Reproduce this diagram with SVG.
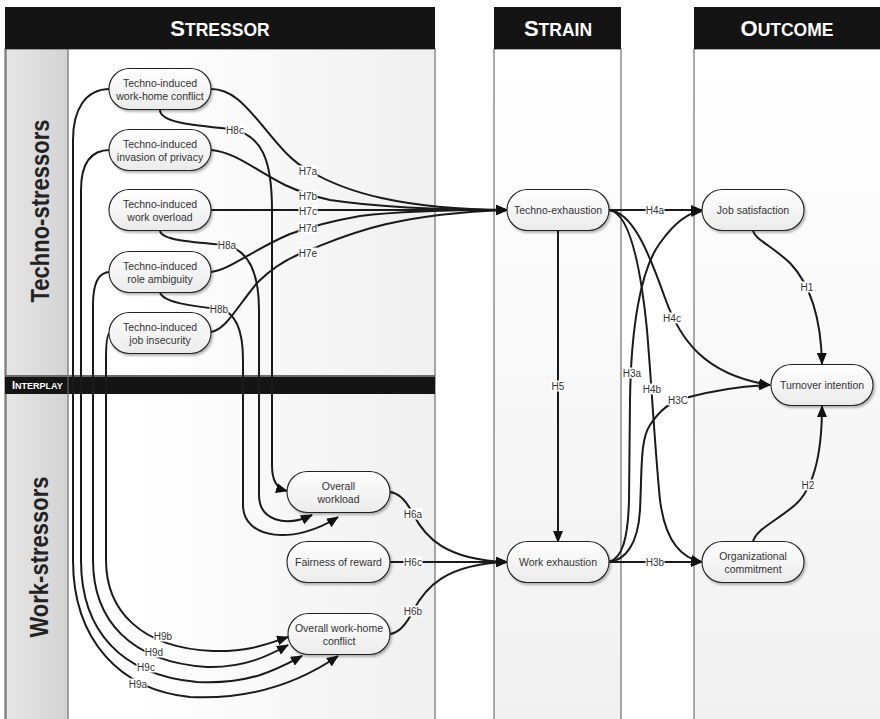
<svg xmlns="http://www.w3.org/2000/svg" width="880" height="719" viewBox="0 0 880 719">
<defs>
<linearGradient id="gStress" x1="0" y1="0" x2="1" y2="0"><stop offset="0" stop-color="#ffffff"/><stop offset="0.3" stop-color="#ffffff"/><stop offset="1" stop-color="#f0f0f0"/></linearGradient>
<linearGradient id="gLane" x1="0" y1="0" x2="0" y2="1"><stop offset="0" stop-color="#ffffff"/><stop offset="1" stop-color="#f1f1f1"/></linearGradient>
<linearGradient id="gCol" x1="0" y1="0" x2="1" y2="0"><stop offset="0" stop-color="#e6e6e6"/><stop offset="1" stop-color="#d3d3d3"/></linearGradient>
<linearGradient id="gNode" x1="0" y1="0" x2="0" y2="1"><stop offset="0" stop-color="#ffffff"/><stop offset="1" stop-color="#ebebeb"/></linearGradient>
<filter id="sh" x="-10%" y="-10%" width="130%" height="150%"><feDropShadow dx="1.5" dy="2" stdDeviation="1" flood-color="#000" flood-opacity="0.28"/></filter>
<marker id="ar" viewBox="0 0 12 10" refX="11" refY="5" markerWidth="12" markerHeight="10" markerUnits="userSpaceOnUse" orient="auto"><path d="M0,0 L12,5 L0,10 z" fill="#111"/></marker>
<style>
.lane{stroke:#555;stroke-width:1}
.hd{font-family:"Liberation Sans",Arial,sans-serif;font-weight:bold;fill:#fff;text-anchor:middle}
.side{font-family:"Liberation Sans",Arial,sans-serif;font-weight:bold;fill:#222;text-anchor:middle}
.n rect{fill:url(#gNode);stroke:#222;stroke-width:1.1;filter:url(#sh)}
.n text{font-family:"Liberation Sans",Arial,sans-serif;font-size:10.5px;fill:#333;text-anchor:middle}
#connectors path{fill:none;stroke:#1a1a1a;stroke-width:2;marker-end:url(#ar)}
.lb rect{fill:#fff}
.lb text{font-family:"Liberation Sans",Arial,sans-serif;font-size:10px;fill:#333;text-anchor:middle}
</style>
</defs>

<g id="lanes">
<rect class="lane" x="5" y="49" width="430" height="680" fill="url(#gStress)"/>
<rect class="lane" x="6" y="49" width="62" height="680" fill="url(#gCol)"/>
<rect class="lane" x="494" y="49" width="127" height="680" fill="url(#gLane)"/>
<rect class="lane" x="694" y="49" width="190" height="680" fill="url(#gLane)"/>
<rect x="5" y="7" width="430" height="42" fill="#141414"/>
<rect x="494" y="7" width="127" height="42" fill="#141414"/>
<rect x="694" y="7" width="186" height="42" fill="#141414"/>
<text class="hd" x="220" y="36"><tspan font-size="22">S</tspan><tspan font-size="17.5">TRESSOR</tspan></text>
<text class="hd" x="558" y="36"><tspan font-size="22">S</tspan><tspan font-size="17.5">TRAIN</tspan></text>
<text class="hd" x="787" y="36"><tspan font-size="22">O</tspan><tspan font-size="17.5">UTCOME</tspan></text>
<text class="side" transform="translate(49,211) rotate(-90)" font-size="25" textLength="183" lengthAdjust="spacingAndGlyphs">Techno-stressors</text>
<text class="side" transform="translate(48,557) rotate(-90)" font-size="25" textLength="161" lengthAdjust="spacingAndGlyphs">Work-stressors</text>
<rect x="5" y="375" width="430" height="19" fill="#141414"/>
<line x1="5" y1="376" x2="435" y2="376" stroke="#888" stroke-width="1.5"/>
<line x1="68" y1="376" x2="68" y2="394" stroke="#777" stroke-width="1"/>
<text x="12" y="389" font-family="Liberation Sans, Arial, sans-serif" font-weight="bold" fill="#fff"><tspan font-size="11">I</tspan><tspan font-size="9">NTERPLAY</tspan></text>
</g>

<g id="connectors">
<path d="M211,89 C232,89 245,105 262,125 C280,147 292,162 310,171 C345,192 400,209 507,210"/>
<path d="M211,150 C235,152 255,170 285,185 C300,192 312,196 330,200 C370,206 420,210 507,210"/>
<path d="M211,210 L507,210"/>
<path d="M211,272 C230,270 252,250 290,234 C312,226 332,221 360,216 C400,211 450,210 507,210"/>
<path d="M211,332 C226,330 238,305 258,282 C275,265 292,256 312,249 C345,236 390,214 507,210"/>
<path d="M160,110 C160,122 190,125 230,129 C262,134 272,160 272,210 L272,465 C272,480 276,488 287,491"/>
<path d="M160,231 C162,240 190,242 225,245 C250,250 259,275 259,310 L259,495 C259,520 285,528 312,515"/>
<path d="M160,292 C162,302 190,306 219,309 C236,312 243,330 243,360 L243,505 C243,540 295,545 338,517"/>
<path d="M110,89 C85,89 73,110 73,140 L73,560 C73,640 120,690 190,697 C250,700 300,682 338,656"/>
<path d="M110,150 C90,150 81,165 81,190 L81,560 C81,630 120,675 197,682 C250,685 280,668 302,656"/>
<path d="M110,272 C98,272 93,285 93,305 L93,560 C93,620 130,662 207,667 C245,668 270,655 288,645"/>
<path d="M110,333 C107,333 106,345 106,360 L106,560 C106,610 140,648 213,651 C250,652 270,643 288,637"/>
<path d="M390,492 C400,493 407,502 413,514 C425,537 445,560 507,562"/>
<path d="M390,562 L507,562"/>
<path d="M390,634 C400,633 407,623 413,611 C425,588 445,564 507,562"/>
<path d="M558,231 L558,542"/>
<path d="M609,210 L702,210"/>
<path d="M609,210 C632,212 648,250 665,298 C680,340 705,375 770,385"/>
<path d="M609,210 C628,212 640,260 647,330 C652,390 655,450 660,500 C665,540 680,558 702,562"/>
<path d="M609,562 C622,558 628,540 629,500 L630,400 C631,330 640,270 660,243 C675,222 690,212 702,211"/>
<path d="M609,562 C625,560 638,545 640,510 C642,470 640,440 650,425 C660,410 670,402 685,398 C715,390 740,386 770,385"/>
<path d="M609,562 L702,562"/>
<path d="M753,231 C756,240 772,246 790,263 C808,282 821,315 822,364"/>
<path d="M753,542 C755,530 775,522 795,505 C812,490 822,460 822,406"/>
<g class="lb">
<rect x="225.5" y="124.5" width="19" height="11"/><text x="235" y="133.5">H8c</text>
<rect x="298.5" y="165.5" width="19" height="11"/><text x="308" y="174.5">H7a</text>
<rect x="298.5" y="190.5" width="19" height="11"/><text x="308" y="199.5">H7b</text>
<rect x="298.5" y="205.5" width="19" height="11"/><text x="308" y="214.5">H7c</text>
<rect x="298.5" y="222.5" width="19" height="11"/><text x="308" y="231.5">H7d</text>
<rect x="298.5" y="247.5" width="19" height="11"/><text x="308" y="256.5">H7e</text>
<rect x="217.5" y="239.5" width="19" height="11"/><text x="227" y="248.5">H8a</text>
<rect x="209.5" y="303.5" width="19" height="11"/><text x="219" y="312.5">H8b</text>
<rect x="550.5" y="380.5" width="15" height="11"/><text x="558" y="389.5">H5</text>
<rect x="645.5" y="204.5" width="19" height="11"/><text x="655" y="213.5">H4a</text>
<rect x="662.5" y="312.5" width="19" height="11"/><text x="672" y="321.5">H4c</text>
<rect x="622.5" y="367.5" width="19" height="11"/><text x="632" y="376.5">H3a</text>
<rect x="642.5" y="383.5" width="19" height="11"/><text x="652" y="392.5">H4b</text>
<rect x="668" y="394.5" width="20" height="11"/><text x="678" y="403.5">H3C</text>
<rect x="799.5" y="281.5" width="15" height="11"/><text x="807" y="290.5">H1</text>
<rect x="800.5" y="479.5" width="15" height="11"/><text x="808" y="488.5">H2</text>
<rect x="403.5" y="508.5" width="19" height="11"/><text x="413" y="517.5">H6a</text>
<rect x="403.5" y="556.5" width="19" height="11"/><text x="413" y="565.5">H6c</text>
<rect x="403.5" y="605.5" width="19" height="11"/><text x="413" y="614.5">H6b</text>
<rect x="645.5" y="556.5" width="19" height="11"/><text x="655" y="565.5">H3b</text>
<rect x="153.5" y="630.5" width="19" height="11"/><text x="163" y="639.5">H9b</text>
<rect x="144.5" y="646.5" width="19" height="11"/><text x="154" y="655.5">H9d</text>
<rect x="136.5" y="661.5" width="19" height="11"/><text x="146" y="670.5">H9c</text>
<rect x="128.5" y="678.5" width="19" height="11"/><text x="138" y="687.5">H9a</text>
</g>
</g>

<g id="n1" class="n"><rect x="109" y="68.5" width="102" height="41" rx="20.5"/><text x="160" y="86.5">Techno-induced</text><text x="160" y="100">work-home conflict</text></g>
<g id="n2" class="n"><rect x="109" y="129.5" width="102" height="41" rx="20.5"/><text x="160" y="147.5">Techno-induced</text><text x="160" y="161">invasion of privacy</text></g>
<g id="n3" class="n"><rect x="109" y="189.5" width="102" height="41" rx="20.5"/><text x="160" y="207.5">Techno-induced</text><text x="160" y="221">work overload</text></g>
<g id="n4" class="n"><rect x="109" y="251.5" width="102" height="41" rx="20.5"/><text x="160" y="269.5">Techno-induced</text><text x="160" y="283">role ambiguity</text></g>
<g id="n5" class="n"><rect x="109" y="312.5" width="102" height="41" rx="20.5"/><text x="160" y="330.5">Techno-induced</text><text x="160" y="344">job insecurity</text></g>
<g id="n6" class="n"><rect x="287" y="471.5" width="103" height="41" rx="20.5"/><text x="338.5" y="489.5">Overall</text><text x="338.5" y="503">workload</text></g>
<g id="n7" class="n"><rect x="287" y="541.5" width="103" height="41" rx="20.5"/><text x="338.5" y="565.8">Fairness of reward</text></g>
<g id="n8" class="n"><rect x="288" y="613.5" width="102" height="41" rx="20.5"/><text x="339" y="631.5">Overall work-home</text><text x="339" y="645">conflict</text></g>
<g id="n9" class="n"><rect x="507" y="189.5" width="102" height="41" rx="20.5"/><text x="558" y="213.8">Techno-exhaustion</text></g>
<g id="n10" class="n"><rect x="507" y="541.5" width="102" height="41" rx="20.5"/><text x="558" y="565.8">Work exhaustion</text></g>
<g id="n11" class="n"><rect x="702" y="189.5" width="102" height="41" rx="20.5"/><text x="753" y="213.8">Job satisfaction</text></g>
<g id="n12" class="n"><rect x="771" y="364.5" width="102" height="41" rx="20.5"/><text x="822" y="388.8">Turnover intention</text></g>
<g id="n13" class="n"><rect x="702" y="541.5" width="102" height="41" rx="20.5"/><text x="753" y="559.5">Organizational</text><text x="753" y="573">commitment</text></g>
</svg>
